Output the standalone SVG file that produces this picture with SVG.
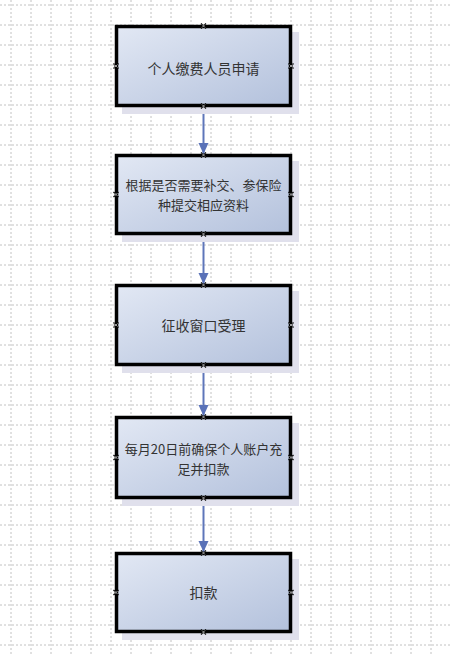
<svg xmlns="http://www.w3.org/2000/svg" xmlns:xlink="http://www.w3.org/1999/xlink" width="450" height="654" viewBox="0 0 450 654">
<style>
.grid line{stroke:#c2c2c2;stroke-width:1;stroke-dasharray:2,2}
.box{fill:url(#g);stroke:#000;stroke-width:3.5}
.shadow{fill:#e0e0ec}
.lbl{font-family:"Noto Sans CJK SC","Liberation Sans",sans-serif;font-size:14px;fill:#333;text-anchor:middle;dominant-baseline:central}
.lbl2{font-size:13px}
.conn line{stroke:#5e76ba;stroke-width:2}
</style>
<defs>
<linearGradient id="g" x1="0" y1="0" x2="1" y2="1">
<stop offset="0" stop-color="#e2e8f4"/>
<stop offset="1" stop-color="#b3c1dc"/>
</linearGradient>
<marker id="ah" markerUnits="userSpaceOnUse" markerWidth="12" markerHeight="14" refX="11" refY="5" orient="auto">
<path d="M0,0 L11,5 L0,10 Z" fill="#5a72b8"/>
</marker>
<g id="x"><path d="M-2.5,-2.5 L2.5,2.5 M-2.5,2.5 L2.5,-2.5" stroke="#000" stroke-width="1.2"/><path d="M-1.5,-1.5 L1.5,1.5 M-1.5,1.5 L1.5,-1.5" stroke="#fff" stroke-width="0.6"/></g>
</defs>
<rect width="450" height="654" fill="#fff"/>
<g class="grid">
<line x1="11" y1="0" x2="11" y2="654"/><line x1="31" y1="0" x2="31" y2="654"/><line x1="51" y1="0" x2="51" y2="654"/><line x1="71" y1="0" x2="71" y2="654"/><line x1="91" y1="0" x2="91" y2="654"/><line x1="111" y1="0" x2="111" y2="654"/><line x1="131" y1="0" x2="131" y2="654"/><line x1="151" y1="0" x2="151" y2="654"/><line x1="171" y1="0" x2="171" y2="654"/><line x1="191" y1="0" x2="191" y2="654"/><line x1="211" y1="0" x2="211" y2="654"/><line x1="231" y1="0" x2="231" y2="654"/><line x1="251" y1="0" x2="251" y2="654"/><line x1="271" y1="0" x2="271" y2="654"/><line x1="291" y1="0" x2="291" y2="654"/><line x1="311" y1="0" x2="311" y2="654"/><line x1="331" y1="0" x2="331" y2="654"/><line x1="351" y1="0" x2="351" y2="654"/><line x1="371" y1="0" x2="371" y2="654"/><line x1="391" y1="0" x2="391" y2="654"/><line x1="411" y1="0" x2="411" y2="654"/><line x1="431" y1="0" x2="431" y2="654"/>
<line x1="0" y1="5" x2="450" y2="5"/><line x1="0" y1="25" x2="450" y2="25"/><line x1="0" y1="45" x2="450" y2="45"/><line x1="0" y1="65" x2="450" y2="65"/><line x1="0" y1="85" x2="450" y2="85"/><line x1="0" y1="105" x2="450" y2="105"/><line x1="0" y1="125" x2="450" y2="125"/><line x1="0" y1="145" x2="450" y2="145"/><line x1="0" y1="165" x2="450" y2="165"/><line x1="0" y1="185" x2="450" y2="185"/><line x1="0" y1="205" x2="450" y2="205"/><line x1="0" y1="225" x2="450" y2="225"/><line x1="0" y1="245" x2="450" y2="245"/><line x1="0" y1="265" x2="450" y2="265"/><line x1="0" y1="285" x2="450" y2="285"/><line x1="0" y1="305" x2="450" y2="305"/><line x1="0" y1="325" x2="450" y2="325"/><line x1="0" y1="345" x2="450" y2="345"/><line x1="0" y1="365" x2="450" y2="365"/><line x1="0" y1="385" x2="450" y2="385"/><line x1="0" y1="405" x2="450" y2="405"/><line x1="0" y1="425" x2="450" y2="425"/><line x1="0" y1="445" x2="450" y2="445"/><line x1="0" y1="465" x2="450" y2="465"/><line x1="0" y1="485" x2="450" y2="485"/><line x1="0" y1="505" x2="450" y2="505"/><line x1="0" y1="525" x2="450" y2="525"/><line x1="0" y1="545" x2="450" y2="545"/><line x1="0" y1="565" x2="450" y2="565"/><line x1="0" y1="585" x2="450" y2="585"/><line x1="0" y1="605" x2="450" y2="605"/><line x1="0" y1="625" x2="450" y2="625"/><line x1="0" y1="645" x2="450" y2="645"/>
</g>
<g class="conn">
<line x1="203.5" y1="107" x2="203.5" y2="154" marker-end="url(#ah)"/>
<line x1="203.5" y1="235" x2="203.5" y2="284" marker-end="url(#ah)"/>
<line x1="203.5" y1="366" x2="203.5" y2="416" marker-end="url(#ah)"/>
<line x1="203.5" y1="499" x2="203.5" y2="552" marker-end="url(#ah)"/>
</g>
<g id="n1">
<rect class="shadow" x="122" y="32" width="177" height="82"/>
<rect class="box" x="116.5" y="26.5" width="174" height="79"/>
<text class="lbl" x="203.5" y="68">个人缴费人员申请</text>
<use xlink:href="#x" x="203.5" y="26"/><use xlink:href="#x" x="203.5" y="106"/><use xlink:href="#x" x="116" y="66"/><use xlink:href="#x" x="291" y="66"/>
</g>
<g id="n2">
<rect class="shadow" x="122" y="161" width="177" height="81"/>
<rect class="box" x="116.5" y="155.5" width="174" height="78"/>
<text class="lbl lbl2" x="203.5" y="184.5">根据是否需要补交、参保险</text>
<text class="lbl lbl2" x="203.5" y="204">种提交相应资料</text>
<use xlink:href="#x" x="203.5" y="155"/><use xlink:href="#x" x="203.5" y="234"/><use xlink:href="#x" x="116" y="194.5"/><use xlink:href="#x" x="291" y="194.5"/>
</g>
<g id="n3">
<rect class="shadow" x="122" y="291" width="177" height="82"/>
<rect class="box" x="116.5" y="285.5" width="174" height="79"/>
<text class="lbl" x="203.5" y="325">征收窗口受理</text>
<use xlink:href="#x" x="203.5" y="285"/><use xlink:href="#x" x="203.5" y="365"/><use xlink:href="#x" x="116" y="325"/><use xlink:href="#x" x="291" y="325"/>
</g>
<g id="n4">
<rect class="shadow" x="122" y="423" width="177" height="83"/>
<rect class="box" x="116.5" y="417.5" width="174" height="80"/>
<text class="lbl lbl2" x="203.5" y="448.5">每月20日前确保个人账户充</text>
<text class="lbl lbl2" x="203.5" y="468">足并扣款</text>
<use xlink:href="#x" x="203.5" y="417"/><use xlink:href="#x" x="203.5" y="498"/><use xlink:href="#x" x="116" y="457.5"/><use xlink:href="#x" x="291" y="457.5"/>
</g>
<g id="n5">
<rect class="shadow" x="122" y="559" width="177" height="81"/>
<rect class="box" x="116.5" y="553.5" width="174" height="78"/>
<text class="lbl" x="203.5" y="592">扣款</text>
<use xlink:href="#x" x="203.5" y="553"/><use xlink:href="#x" x="203.5" y="632"/><use xlink:href="#x" x="116" y="592.5"/><use xlink:href="#x" x="291" y="592.5"/>
</g>
</svg>
